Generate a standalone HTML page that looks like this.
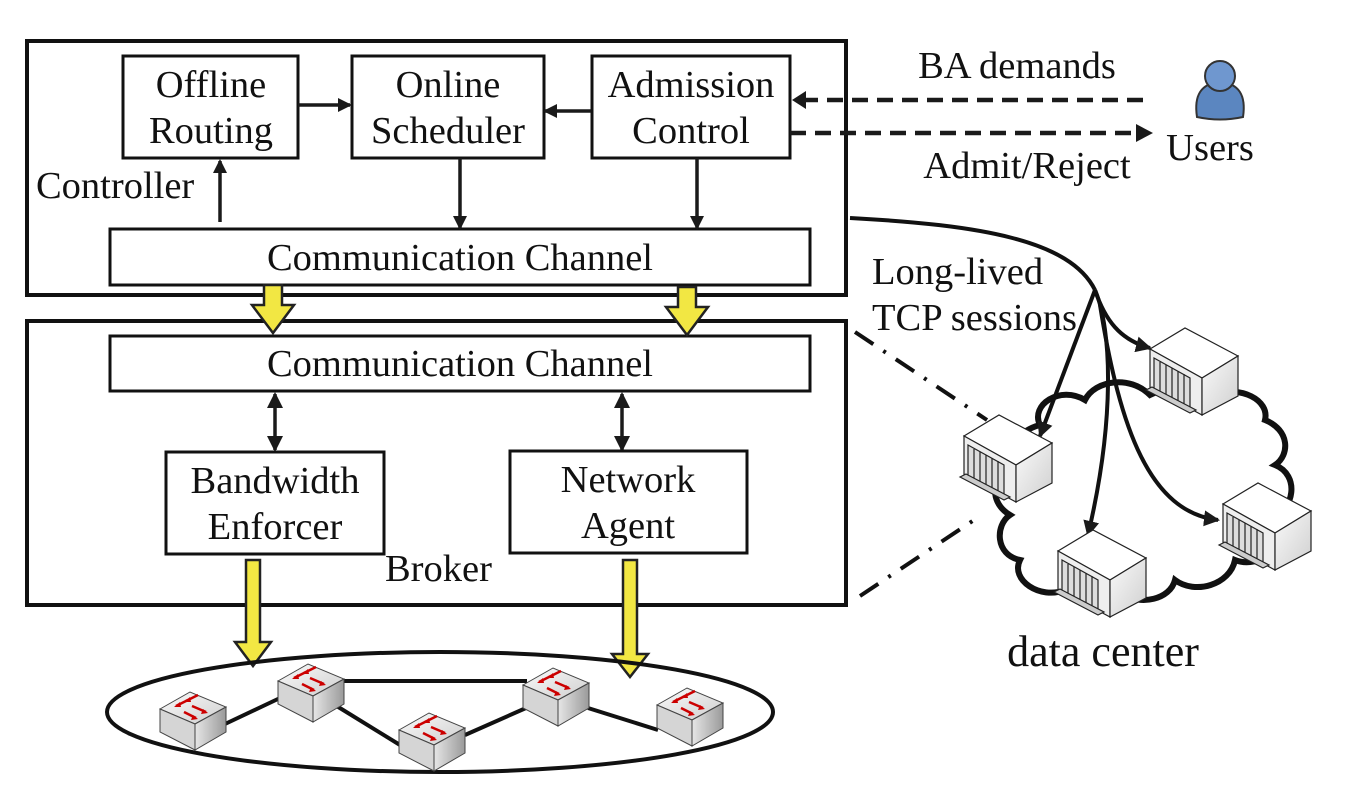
<!DOCTYPE html>
<html><head><meta charset="utf-8"><style>
html,body{margin:0;padding:0;background:#fff}
svg{display:block}
text{font-family:"Liberation Serif",serif;fill:#111;font-size:38.5px}
</style></head><body>
<svg width="1358" height="812" viewBox="0 0 1358 812" xmlns="http://www.w3.org/2000/svg">
<defs>
<marker id="ah" markerWidth="14" markerHeight="14" refX="12" refY="7" orient="auto" markerUnits="userSpaceOnUse"><path d="M0,0 L14,7 L0,14 z" fill="#1a1a1a"/></marker>
<marker id="ah2" markerWidth="16" markerHeight="16" refX="14" refY="8" orient="auto" markerUnits="userSpaceOnUse"><path d="M0,0 L16,8 L0,16 z" fill="#1a1a1a"/></marker>
<marker id="ahs" markerWidth="16" markerHeight="16" refX="14" refY="8" orient="auto-start-reverse" markerUnits="userSpaceOnUse"><path d="M0,0 L16,8 L0,16 z" fill="#1a1a1a"/></marker>
<linearGradient id="g1" x1="0" y1="0" x2="1" y2="1"><stop offset="0" stop-color="#fafafa"/><stop offset="1" stop-color="#cfcfcf"/></linearGradient>
<linearGradient id="g2" x1="0" y1="0" x2="1" y2="0"><stop offset="0" stop-color="#e6e6e6"/><stop offset="1" stop-color="#9a9a9a"/></linearGradient>
<g id="srv" stroke="#222" stroke-width="1.2">
<polygon points="0,21 35,0 88,28 52,50" fill="#fff"/>
<polygon points="0,21 52,50 52,87 0,59" fill="#eee"/>
<polygon points="52,50 88,28 88,68 52,87" fill="url(#g1)"/>
<polygon points="4,30 40,50 40,80 4,62" fill="#ddd"/>
<line x1="10" y1="34" x2="10" y2="66"/><line x1="16" y1="37" x2="16" y2="69"/><line x1="22" y1="40" x2="22" y2="72"/><line x1="28" y1="43" x2="28" y2="75"/><line x1="34" y1="46" x2="34" y2="78"/>
<polygon points="-4,62 40,85 46,82 2,59" fill="#ccc"/>
</g>
<g id="sw" stroke="#444" stroke-width="1">
<polygon points="0,17 30,0 66,15 35,32" fill="url(#g1)"/>
<polygon points="0,17 35,32 35,58 0,40" fill="#d5d5d5"/>
<polygon points="35,32 66,15 66,40 35,58" fill="url(#g2)"/>
<g stroke="#c00" stroke-width="2.5" fill="none">
<line x1="16" y1="14" x2="28" y2="8"/><line x1="26" y1="9" x2="38" y2="3"/><line x1="32" y1="14" x2="46" y2="20"/><line x1="24" y1="20" x2="36" y2="26"/>
</g>
<g fill="#c00" stroke="none">
<polygon points="14,15 20,10 21,15"/><polygon points="24,10 30,5 31,10"/><polygon points="48,21 41,22 43,17"/><polygon points="38,27 31,28 33,23"/>
</g>
</g>
</defs>

<!-- Controller -->
<rect x="27" y="41" width="819" height="254" fill="none" stroke="#111" stroke-width="4"/>
<rect x="123" y="56" width="175" height="102" fill="#fff" stroke="#111" stroke-width="3"/>
<rect x="352" y="56" width="192" height="102" fill="#fff" stroke="#111" stroke-width="3"/>
<rect x="592" y="56" width="198" height="102" fill="#fff" stroke="#111" stroke-width="3"/>
<text x="211" y="97" text-anchor="middle">Offline</text><text x="211" y="143" text-anchor="middle">Routing</text>
<text x="448" y="97" text-anchor="middle">Online</text><text x="448" y="143" text-anchor="middle">Scheduler</text>
<text x="691" y="97" text-anchor="middle">Admission</text><text x="691" y="143" text-anchor="middle">Control</text>
<text x="36" y="198">Controller</text>
<rect x="110" y="229" width="700" height="56" fill="#fff" stroke="#111" stroke-width="3"/>
<text x="460" y="270" text-anchor="middle">Communication Channel</text>
<g stroke="#1a1a1a" stroke-width="3.5">
<line x1="298" y1="105" x2="350" y2="105" marker-end="url(#ah)"/>
<line x1="591" y1="111" x2="545" y2="111" marker-end="url(#ah)"/>
<line x1="220" y1="222" x2="220" y2="161" marker-end="url(#ah)"/>
<line x1="460" y1="158" x2="460" y2="228" marker-end="url(#ah)"/>
<line x1="697" y1="158" x2="697" y2="228" marker-end="url(#ah)"/>
<line x1="275" y1="394" x2="275" y2="450" marker-start="url(#ahs)" marker-end="url(#ahs)"/>
<line x1="622" y1="394" x2="622" y2="450" marker-start="url(#ahs)" marker-end="url(#ahs)"/>
</g>

<!-- Broker -->
<rect x="27" y="321" width="819" height="284" fill="none" stroke="#111" stroke-width="4"/>
<rect x="110" y="336" width="700" height="55" fill="#fff" stroke="#111" stroke-width="3"/>
<text x="460" y="376" text-anchor="middle">Communication Channel</text>
<rect x="166" y="452" width="218" height="102" fill="#fff" stroke="#111" stroke-width="3"/>
<rect x="510" y="451" width="237" height="102" fill="#fff" stroke="#111" stroke-width="3"/>
<text x="275" y="493" text-anchor="middle">Bandwidth</text><text x="275" y="539" text-anchor="middle">Enforcer</text>
<text x="628" y="492" text-anchor="middle">Network</text><text x="628" y="538" text-anchor="middle">Agent</text>
<text x="385" y="581">Broker</text>

<!-- yellow arrows -->
<g fill="#f2e743" stroke="#222" stroke-width="2.5">
<polygon points="264,285 282,285 282,305 294,305 273,333 252,305 264,305"/>
<polygon points="678,287 696,287 696,307 708,307 687,335 666,307 678,307"/>
<polygon points="246,560 260,560 260,642 271,642 253,666 235,642 246,642"/>
<polygon points="623,560 637,560 637,654 648,654 630,677 612,654 623,654"/>
</g>

<!-- network ellipse -->
<ellipse cx="440" cy="712" rx="333" ry="60" fill="none" stroke="#111" stroke-width="4"/>
<g stroke="#111" stroke-width="4">
<line x1="225" y1="724" x2="280" y2="698"/>
<line x1="340" y1="681" x2="527" y2="681"/>
<line x1="335" y1="705" x2="400" y2="745"/>
<line x1="465" y1="735" x2="526" y2="708"/>
<line x1="588" y1="708" x2="658" y2="730"/>
</g>
<use href="#sw" x="160" y="692"/>
<use href="#sw" x="278" y="664"/>
<use href="#sw" x="399" y="713"/>
<use href="#sw" x="523" y="668"/>
<use href="#sw" x="657" y="688"/>

<!-- users -->
<g stroke="#1a1a1a" stroke-width="4.5" stroke-dasharray="16,9">
<line x1="1143" y1="100" x2="806" y2="100"/>
<line x1="790" y1="133" x2="1138" y2="133"/>
</g>
<path d="M806,91 L792,100 L806,109 z" fill="#1a1a1a"/>
<path d="M1136,124 L1153,133 L1136,142 z" fill="#1a1a1a"/>
<text x="1017" y="78" text-anchor="middle">BA demands</text>
<text x="1027" y="178" text-anchor="middle">Admit/Reject</text>
<text x="1210" y="160" text-anchor="middle">Users</text>
<path d="M1197,117 Q1192,84 1220,82 Q1248,84 1243,117 Q1220,122 1197,117 Z" fill="#5b86c0" stroke="#333" stroke-width="2"/>
<circle cx="1220" cy="76" r="15" fill="#6f97cf" stroke="#333" stroke-width="2"/>

<!-- data center -->
<path d="M1040,425 C1030,405 1060,385 1085,400 C1095,380 1130,375 1150,395 C1170,385 1200,385 1215,395 C1240,385 1270,400 1265,420 C1290,430 1290,455 1275,465 C1300,475 1295,510 1270,520 C1290,545 1260,570 1235,560 C1230,585 1195,595 1175,580 C1170,600 1140,605 1125,595 C1110,610 1075,605 1065,590 C1040,600 1010,580 1020,560 C995,555 995,525 1010,515 C985,500 995,470 1015,470 C1000,450 1020,430 1040,425 Z" fill="none" stroke="#111" stroke-width="6"/>
<g stroke="#111" stroke-width="4" fill="none">
<path d="M850,218 C980,225 1070,240 1095,290"/>
<path d="M1095,290 L1040,436" marker-end="url(#ah2)"/>
<path d="M1095,290 C1105,320 1120,340 1150,348" marker-end="url(#ah2)"/>
<path d="M1095,290 C1112,330 1115,420 1088,535" marker-end="url(#ah2)"/>
<path d="M1100,305 C1120,430 1150,512 1218,520" marker-end="url(#ah2)"/>
</g>
<g stroke="#111" stroke-width="4" stroke-dasharray="22,12,3,12">
<line x1="855" y1="332" x2="987" y2="420"/>
<line x1="860" y1="596" x2="977" y2="518"/>
</g>
<use href="#srv" x="1150" y="328"/>
<use href="#srv" x="964" y="415"/>
<use href="#srv" x="1058" y="530"/>
<use href="#srv" x="1223" y="483"/>
<text x="872" y="284">Long-lived</text>
<text x="872" y="330">TCP sessions</text>
<text x="1103" y="666" text-anchor="middle" style="font-size:44px">data center</text>
</svg>
</body></html>
